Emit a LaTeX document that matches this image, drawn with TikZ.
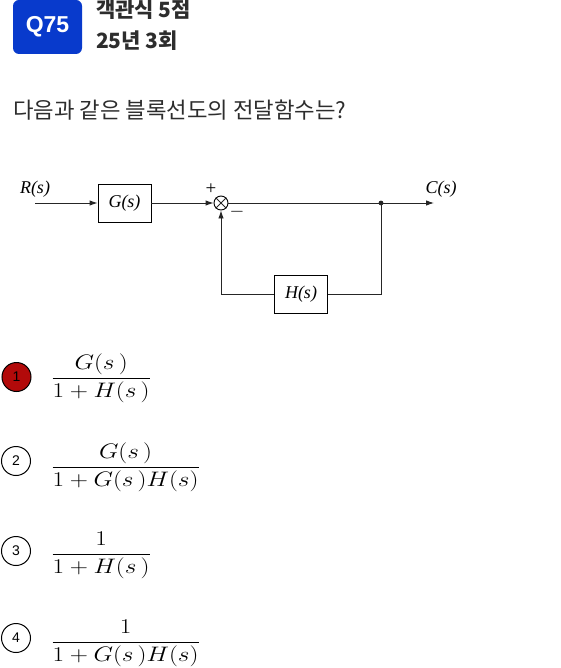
\documentclass[tikz,border=0pt]{standalone}
\usepackage{amsmath}
\usepackage[no-math]{fontspec}
\usepackage{fix-cm}
\setmainfont{Liberation Serif}
\newfontfamily\krfont{Noto Sans CJK KR}
\newfontfamily\numfont{Liberation Sans}
\usetikzlibrary{positioning,arrows.meta}
\definecolor{qblue}{RGB}{8,58,204}
\definecolor{ansred}{RGB}{178,10,10}
\definecolor{txtgray}{RGB}{45,45,45}
\newcommand{\wideans}[1]{\scalebox{1.2}[1]{$\dfrac#1$}}

\begin{document}
\begin{tikzpicture}[x=1pt,y=-1pt,
    >={Latex[length=8pt,width=5.5pt]},
    wire/.style={line width=0.9pt,black!85},
    block/.style={draw,line width=0.9pt,minimum width=53pt,minimum height=38pt,
        inner sep=0pt,font=\fontsize{18}{20}\selectfont\itshape},
    sig/.style={inner sep=0pt,font=\fontsize{18}{20}\selectfont\itshape},
    sumnode/.style={draw,circle,line width=0.9pt,minimum size=14pt,inner sep=0pt},
    optnum/.style={draw,circle,line width=1pt,minimum size=29pt,inner sep=0pt,
        font=\numfont\fontsize{14}{16}\selectfont},
    answer/.style={anchor=base west,inner sep=0pt,font=\fontsize{21}{25}\selectfont}]
    \useasboundingbox (0,0) rectangle (560,668);

    % header
    \node[fill=qblue,rounded corners=6pt,minimum width=69pt,minimum height=54pt,
        text=white,font=\numfont\bfseries\fontsize{23}{26}\selectfont] (q) at (47.5,27) {Q75};
    \node[anchor=west,inner sep=0pt,text=txtgray,
        font=\krfont\bfseries\fontsize{21}{23}\selectfont] (type) at (96,10) {객관식 5점};
    \node[anchor=west,inner sep=0pt,text=txtgray,
        font=\krfont\bfseries\fontsize{21}{23}\selectfont] (round) at (96,41) {25년 3회};
    \node[anchor=west,inner sep=0pt,text=txtgray,
        font=\krfont\fontsize{22.3}{25}\selectfont] (question) at (13,110) {다음과 같은 블록선도의 전달함수는?};

    % block diagram
    \coordinate (in) at (35,203);
    \coordinate (split) at (381,203);
    \coordinate (out) at (434,203);
    \node[block] (G) at (124.5,203) {G(s)};
    \node[sumnode] (sum) at (221,203) {};
    \node[block] (H) at (301,294) {H(s)};
    \draw[wire] (sum.north west) -- (sum.south east)
        (sum.north east) -- (sum.south west);
    \node[sig] (R) at (35,189) {R(s)};
    \node[sig] (C) at (441,189) {C(s)};
    \node[inner sep=0pt,font=\fontsize{19}{19}\selectfont] (plus) at (211,189) {+};
    \node[inner sep=0pt,font=\fontsize{19}{19}\selectfont] (minus) at (237,212) {$-$};
    \draw[wire,->] (in) -- (G);
    \draw[wire,->] (G) -- (sum);
    \draw[wire] (sum) -- (split);
    \draw[wire,->] (split) -- (out);
    \fill[black!85] (split) circle (2.4);
    \draw[wire] (split) |- (H);
    \draw[wire,->] (H) -| (sum);

    % answers
    \node[optnum,fill=ansred] (o1) at (16.5,377) {1};
    \node[optnum] (o2) at (16,461) {2};
    \node[optnum] (o3) at (16,551) {3};
    \node[optnum] (o4) at (16,638) {4};
    \node[answer] (a1) at (51,383.5) {\wideans{{G(s\,)}{1+H(s\,)}}};
    \node[answer] (a2) at (51,472.25) {\wideans{{G(s\,)}{1+G(s\,)H(s)}}};
    \node[answer] (a3) at (51,559.25) {\wideans{{1}{1+H(s\,)}}};
    \node[answer] (a4) at (51,647.25) {\wideans{{1}{1+G(s\,)H(s)}}};
\end{tikzpicture}
\end{document}
